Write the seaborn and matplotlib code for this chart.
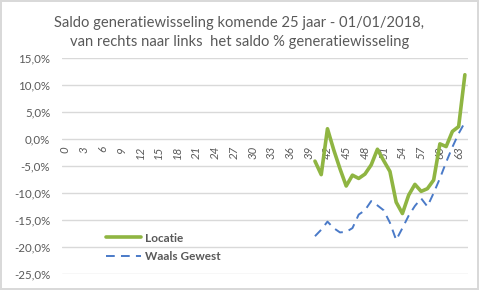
import numpy as np
import pandas as pd
import matplotlib
matplotlib.use("Agg")
import matplotlib.pyplot as plt
import seaborn as sns

ages = list(range(0, 65))
tick_ages = list(range(0, 64, 3))
locatie_ages = list(range(40, 65))
locatie = [-4.1, -6.6, 1.9, -2.0, -5.5, -8.7, -6.7, -7.3, -6.5, -4.8, -1.9,
           -4.0, -6.0, -11.7, -13.8, -10.4, -8.4, -9.7, -9.2, -7.6, -0.9,
           -1.4, 1.4, 2.3, 11.9]
waals = [-18.0, -16.8, -15.3, -16.5, -17.3, -17.2, -16.5, -14.0, -13.2, -11.5,
         -12.3, -13.2, -15.5, -18.7, -16.5, -14.2, -12.4, -11.0, -12.5, -10.0,
         -7.3, -4.3, -1.5, 1.0, 3.1]
y_ticks = [15, 10, 5, 0, -5, -10, -15, -20, -25]
title = "Saldo generatiewisseling komende 25 jaar - 01/01/2018,\nvan rechts naar links  het saldo % generatiewisseling"

df = pd.DataFrame({"age": locatie_ages, "Locatie": locatie, "Waals Gewest": waals})

sns.set_style("white")
plt.rcParams["font.family"] = ["Lato", "DejaVu Sans"]

fig = plt.figure(figsize=(4.79, 2.90), dpi=100, edgecolor="#d9d9d9", linewidth=1.5)
ax = fig.add_axes([62 / 479, 1 - 274 / 290, 406 / 479, 216 / 290])

sns.lineplot(data=df, x="age", y="Locatie", ax=ax, color="#8fb542", linewidth=2.6,
             label="Locatie")
sns.lineplot(data=df, x="age", y="Waals Gewest", ax=ax, color="#4a7ac8", linewidth=1.4,
             label="Waals Gewest", dashes=False)
ax.lines[1].set_dashes((4.5, 3.2))

for s in ["top", "right", "left"]:
    ax.spines[s].set_visible(False)
ax.spines["bottom"].set_position(("data", 0))
ax.spines["bottom"].set_visible(False)

ax.set_xlim(-0.5, 64.5)
ax.set_ylim(-25, 15)
ax.set_yticks(y_ticks)
ax.set_yticklabels([f"{v:.1f}%".replace(".", ",") for v in y_ticks],
                   color="#595959", fontsize=8.3)
ax.yaxis.grid(True, color="#d9d9d9", linewidth=1)
ax.set_axisbelow(True)
ax.set_xticks(tick_ages)
ax.set_xticklabels([str(a) for a in tick_ages], rotation=90, color="#595959",
                   fontsize=8.3, style="italic")
ax.tick_params(axis="x", length=0, pad=5)
ax.tick_params(axis="y", length=0, pad=8.5)
ax.set_xlabel("")
ax.set_ylabel("")

leg = ax.legend(loc="lower left", bbox_to_anchor=(0.082, 0.005), frameon=False,
                handlelength=3.0, handletextpad=0.3, labelspacing=0.65,
                prop={"weight": "bold", "size": 8.5})
for t in leg.get_texts():
    t.set_color("#595959")

fig.text(0.5, 0.888, title, ha="center", va="center", color="#595959",
         fontsize=10.6, linespacing=1.4)

fig.savefig("out.png", dpi=100, edgecolor=fig.get_edgecolor())
